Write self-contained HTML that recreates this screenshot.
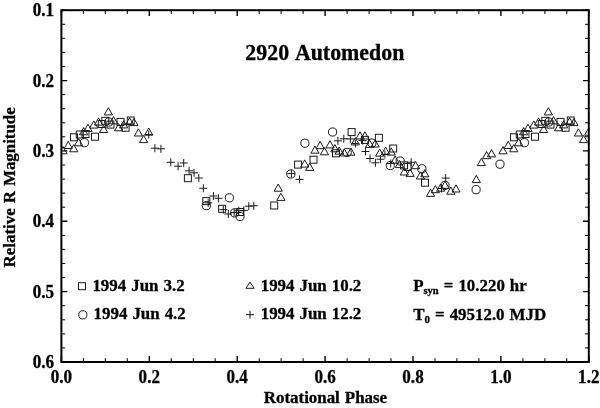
<!DOCTYPE html>
<html><head><meta charset="utf-8"><title>2920 Automedon</title>
<style>
html,body{margin:0;padding:0;background:#fff;}
svg{display:block;font-family:"Liberation Serif",serif;font-weight:bold;fill:#000;}
text{stroke:#000;stroke-width:0.3px;word-spacing:0.8px;}
.m *{fill:none;stroke:#1a1a1a;stroke-width:1;}
.t{font-size:17.5px;}
.l{font-size:17.1px;}
</style></head><body>
<svg width="600" height="408" viewBox="0 0 600 408">
<rect x="0" y="0" width="600" height="408" fill="#fff"/>
<clipPath id="c"><rect x="61.4" y="10.2" width="527.9" height="351.8"/></clipPath>
<g class="m" clip-path="url(#c)">
<rect x="184.4" y="174.7" width="7" height="7"/>
<rect x="202.8" y="197.6" width="7" height="7"/>
<rect x="218.6" y="205.3" width="7" height="7"/>
<rect x="236.6" y="208.5" width="7" height="7"/>
<rect x="270.7" y="202" width="7" height="7"/>
<rect x="294.6" y="161.1" width="7" height="7"/>
<rect x="310" y="156.2" width="7" height="7"/>
<rect x="332.5" y="149.8" width="7" height="7"/>
<rect x="348.1" y="128.6" width="7" height="7"/>
<rect x="361.4" y="136.4" width="7" height="7"/>
<rect x="375.4" y="134.3" width="7" height="7"/>
<rect x="389.7" y="145" width="7" height="7"/>
<rect x="400.5" y="161.9" width="7" height="7"/>
<rect x="404.1" y="163.4" width="7" height="7"/>
<rect x="421.5" y="179.2" width="7" height="7"/>
<rect x="70.5" y="133.8" width="7" height="7"/>
<rect x="76.3" y="131" width="7" height="7"/>
<rect x="82" y="130.5" width="7" height="7"/>
<rect x="91.5" y="133.2" width="7" height="7"/>
<rect x="98.3" y="120.5" width="7" height="7"/>
<rect x="101.8" y="117.3" width="7" height="7"/>
<rect x="106.9" y="121.1" width="7" height="7"/>
<rect x="117" y="118.4" width="7" height="7"/>
<rect x="122.1" y="124.2" width="7" height="7"/>
<rect x="127.3" y="117" width="7" height="7"/>
<rect x="510.5" y="133.8" width="7" height="7"/>
<rect x="516.3" y="131" width="7" height="7"/>
<rect x="522" y="130.5" width="7" height="7"/>
<rect x="531.5" y="133.2" width="7" height="7"/>
<rect x="538.3" y="120.5" width="7" height="7"/>
<rect x="541.8" y="117.3" width="7" height="7"/>
<rect x="546.9" y="121.1" width="7" height="7"/>
<rect x="557" y="118.4" width="7" height="7"/>
<rect x="562.1" y="124.2" width="7" height="7"/>
<rect x="567.3" y="117" width="7" height="7"/>
<circle cx="229.4" cy="197.8" r="4.1"/>
<circle cx="206.3" cy="205.6" r="4.1"/>
<circle cx="234.6" cy="212.9" r="4.1"/>
<circle cx="240" cy="216.5" r="4.1"/>
<circle cx="290.8" cy="174" r="4.1"/>
<circle cx="304.9" cy="143.2" r="4.1"/>
<circle cx="332.6" cy="132" r="4.1"/>
<circle cx="347.2" cy="152.4" r="4.1"/>
<circle cx="371.9" cy="143" r="4.1"/>
<circle cx="390.3" cy="165.5" r="4.1"/>
<circle cx="400.2" cy="161" r="4.1"/>
<circle cx="421.9" cy="168.8" r="4.1"/>
<circle cx="445" cy="185.4" r="4.1"/>
<circle cx="476.1" cy="189.6" r="4.1"/>
<circle cx="500" cy="164.2" r="4.1"/>
<circle cx="84.4" cy="142.7" r="4.1"/>
<circle cx="108.7" cy="122" r="4.1"/>
<circle cx="524.4" cy="142.7" r="4.1"/>
<circle cx="548.7" cy="122" r="4.1"/>
<path d="M274.1 191.2L278.2 184L282.3 191.2Z"/>
<path d="M276.8 200.4L280.9 193.2L285 200.4Z"/>
<path d="M300.6 167.1L304.7 159.9L308.8 167.1Z"/>
<path d="M305.6 170.4L309.7 163.2L313.8 170.4Z"/>
<path d="M310.9 153.2L315 146L319.1 153.2Z"/>
<path d="M316 148.7L320.1 141.5L324.2 148.7Z"/>
<path d="M320.4 154.8L324.5 147.6L328.6 154.8Z"/>
<path d="M325.9 147.9L330 140.7L334.1 147.9Z"/>
<path d="M330.8 151.8L334.9 144.6L339 151.8Z"/>
<path d="M335.1 154.2L339.2 147L343.3 154.2Z"/>
<path d="M340.2 156L344.3 148.8L348.4 156Z"/>
<path d="M346.8 155.2L350.9 148L355 155.2Z"/>
<path d="M351.2 144.9L355.3 137.7L359.4 144.9Z"/>
<path d="M355.9 139L360 131.8L364.1 139Z"/>
<path d="M360.8 139L364.9 131.8L369 139Z"/>
<path d="M365.6 147.4L369.7 140.2L373.8 147.4Z"/>
<path d="M371.1 147L375.2 139.8L379.3 147Z"/>
<path d="M375.6 156.2L379.7 149L383.8 156.2Z"/>
<path d="M381.5 154.3L385.6 147.1L389.7 154.3Z"/>
<path d="M387.1 155.1L391.2 147.9L395.3 155.1Z"/>
<path d="M391 163.2L395.1 156L399.2 163.2Z"/>
<path d="M395.4 167.6L399.5 160.4L403.6 167.6Z"/>
<path d="M400.2 175L404.3 167.8L408.4 175Z"/>
<path d="M406 176.4L410.1 169.2L414.2 176.4Z"/>
<path d="M411.5 168.7L415.6 161.5L419.7 168.7Z"/>
<path d="M416.3 179L420.4 171.8L424.5 179Z"/>
<path d="M420.7 176.8L424.8 169.6L428.9 176.8Z"/>
<path d="M426.5 196.4L430.6 189.2L434.7 196.4Z"/>
<path d="M431.3 192.7L435.4 185.5L439.5 192.7Z"/>
<path d="M436.5 191.2L440.6 184L444.7 191.2Z"/>
<path d="M440.9 188.3L445 181.1L449.1 188.3Z"/>
<path d="M446.8 194.2L450.9 187L455 194.2Z"/>
<path d="M451.9 192L456 184.8L460.1 192Z"/>
<path d="M472.2 182.6L476.3 175.4L480.4 182.6Z"/>
<path d="M477.3 165.6L481.4 158.4L485.5 165.6Z"/>
<path d="M482.5 158.7L486.6 151.5L490.7 158.7Z"/>
<path d="M487.4 156.8L491.5 149.6L495.6 156.8Z"/>
<path d="M64.1 148.5L68.2 141.3L72.3 148.5Z"/>
<path d="M69.6 151.8L73.7 144.6L77.8 151.8Z"/>
<path d="M58.9 153.8L63 146.6L67.1 153.8Z"/>
<path d="M74.5 145.8L78.6 138.6L82.7 145.8Z"/>
<path d="M79.5 134.8L83.6 127.6L87.7 134.8Z"/>
<path d="M83.9 131.4L88 124.2L92.1 131.4Z"/>
<path d="M89.7 128.1L93.8 120.9L97.9 128.1Z"/>
<path d="M94.5 125.1L98.6 117.9L102.7 125.1Z"/>
<path d="M99.5 132.5L103.6 125.3L107.7 132.5Z"/>
<path d="M104.3 114.9L108.4 107.7L112.5 114.9Z"/>
<path d="M109.4 123.8L113.5 116.6L117.6 123.8Z"/>
<path d="M114.5 130.8L118.6 123.6L122.7 130.8Z"/>
<path d="M119.6 127.9L123.7 120.7L127.8 127.9Z"/>
<path d="M125.5 124.9L129.6 117.7L133.7 124.9Z"/>
<path d="M129.9 125.6L134 118.4L138.1 125.6Z"/>
<path d="M134.3 136L138.4 128.8L142.5 136Z"/>
<path d="M139.5 142.6L143.6 135.4L147.7 142.6Z"/>
<path d="M144.6 135.2L148.7 128L152.8 135.2Z"/>
<path d="M504.1 148.5L508.2 141.3L512.3 148.5Z"/>
<path d="M509.6 151.8L513.7 144.6L517.8 151.8Z"/>
<path d="M498.9 153.8L503 146.6L507.1 153.8Z"/>
<path d="M514.5 145.8L518.6 138.6L522.7 145.8Z"/>
<path d="M519.5 134.8L523.6 127.6L527.7 134.8Z"/>
<path d="M523.9 131.4L528 124.2L532.1 131.4Z"/>
<path d="M529.7 128.1L533.8 120.9L537.9 128.1Z"/>
<path d="M534.5 125.1L538.6 117.9L542.7 125.1Z"/>
<path d="M539.5 132.5L543.6 125.3L547.7 132.5Z"/>
<path d="M544.3 114.9L548.4 107.7L552.5 114.9Z"/>
<path d="M549.4 123.8L553.5 116.6L557.6 123.8Z"/>
<path d="M554.5 130.8L558.6 123.6L562.7 130.8Z"/>
<path d="M559.6 127.9L563.7 120.7L567.8 127.9Z"/>
<path d="M565.5 124.9L569.6 117.7L573.7 124.9Z"/>
<path d="M569.9 125.6L574 118.4L578.1 125.6Z"/>
<path d="M574.3 136L578.4 128.8L582.5 136Z"/>
<path d="M579.5 142.6L583.6 135.4L587.7 142.6Z"/>
<path d="M584.6 135.2L588.7 128L592.8 135.2Z"/>
<path d="M144.7 134.5H152.7M148.7 130.5V138.5"/>
<path d="M150.9 148.2H158.9M154.9 144.2V152.2"/>
<path d="M156.9 148.8H164.9M160.9 144.8V152.8"/>
<path d="M166.8 162.3H174.8M170.8 158.3V166.3"/>
<path d="M174.1 166.2H182.1M178.1 162.2V170.2"/>
<path d="M179.7 163H187.7M183.7 159V167"/>
<path d="M185.1 170.8H193.1M189.1 166.8V174.8"/>
<path d="M190 172.8H198M194 168.8V176.8"/>
<path d="M194.8 178H202.8M198.8 174V182"/>
<path d="M199.3 188.3H207.3M203.3 184.3V192.3"/>
<path d="M209.4 196H217.4M213.4 192V200"/>
<path d="M214.4 198.3H222.4M218.4 194.3V202.3"/>
<path d="M204.2 202.8H212.2M208.2 198.8V206.8"/>
<path d="M219.3 209.6H227.3M223.3 205.6V213.6"/>
<path d="M224.3 214H232.3M228.3 210V218"/>
<path d="M230.2 212.5H238.2M234.2 208.5V216.5"/>
<path d="M234.8 210.8H242.8M238.8 206.8V214.8"/>
<path d="M239.8 210.4H247.8M243.8 206.4V214.4"/>
<path d="M244.8 206.2H252.8M248.8 202.2V210.2"/>
<path d="M249.8 205.8H257.8M253.8 201.8V209.8"/>
<path d="M287.4 173.6H295.4M291.4 169.6V177.6"/>
<path d="M295.6 179.4H303.6M299.6 175.4V183.4"/>
<path d="M333.9 140.8H341.9M337.9 136.8V144.8"/>
<path d="M339.8 138.8H347.8M343.8 134.8V142.8"/>
<path d="M346.4 138.9H354.4M350.4 134.9V142.9"/>
<path d="M351.3 143.5H359.3M355.3 139.5V147.5"/>
<path d="M358.6 140.6H366.6M362.6 136.6V144.6"/>
<path d="M361.5 151.5H369.5M365.5 147.5V155.5"/>
<path d="M366 158.5H374M370 154.5V162.5"/>
<path d="M371.4 162.8H379.4M375.4 158.8V166.8"/>
<path d="M376.5 159.2H384.5M380.5 155.2V163.2"/>
<path d="M380.9 154.4H388.9M384.9 150.4V158.4"/>
<path d="M386.7 163.5H394.7M390.7 159.5V167.5"/>
<path d="M407.1 162.2H415.1M411.1 158.2V166.2"/>
<path d="M441.7 178.1H449.7M445.7 174.1V182.1"/>
<path d="M437.5 188.5H445.5M441.5 184.5V192.5"/>
</g>
<rect x="61.4" y="10.2" width="527.4" height="351.8" fill="none" stroke="#000" stroke-width="2"/>
<path d="M61.4 362v-5.9M61.4 10.2v5.9M149.3 362v-5.9M149.3 10.2v5.9M237.2 362v-5.9M237.2 10.2v5.9M325.1 362v-5.9M325.1 10.2v5.9M413 362v-5.9M413 10.2v5.9M500.9 362v-5.9M500.9 10.2v5.9M588.8 362v-5.9M588.8 10.2v5.9M61.4 10.2h5.9M588.8 10.2h-5.9M61.4 80.6h5.9M588.8 80.6h-5.9M61.4 150.9h5.9M588.8 150.9h-5.9M61.4 221.3h5.9M588.8 221.3h-5.9M61.4 291.6h5.9M588.8 291.6h-5.9M61.4 362h5.9M588.8 362h-5.9" stroke="#000" stroke-width="1.4" fill="none"/>
<path d="M83.4 362v-3.8M83.4 10.2v3.8M105.3 362v-3.8M105.3 10.2v3.8M127.3 362v-3.8M127.3 10.2v3.8M171.3 362v-3.8M171.3 10.2v3.8M193.3 362v-3.8M193.3 10.2v3.8M215.2 362v-3.8M215.2 10.2v3.8M259.2 362v-3.8M259.2 10.2v3.8M281.1 362v-3.8M281.1 10.2v3.8M303.1 362v-3.8M303.1 10.2v3.8M347.1 362v-3.8M347.1 10.2v3.8M369.1 362v-3.8M369.1 10.2v3.8M391 362v-3.8M391 10.2v3.8M435 362v-3.8M435 10.2v3.8M456.9 362v-3.8M456.9 10.2v3.8M478.9 362v-3.8M478.9 10.2v3.8M522.9 362v-3.8M522.9 10.2v3.8M544.9 362v-3.8M544.9 10.2v3.8M566.8 362v-3.8M566.8 10.2v3.8M61.4 24.3h3.8M588.8 24.3h-3.8M61.4 38.3h3.8M588.8 38.3h-3.8M61.4 52.4h3.8M588.8 52.4h-3.8M61.4 66.5h3.8M588.8 66.5h-3.8M61.4 94.6h3.8M588.8 94.6h-3.8M61.4 108.7h3.8M588.8 108.7h-3.8M61.4 122.8h3.8M588.8 122.8h-3.8M61.4 136.8h3.8M588.8 136.8h-3.8M61.4 165h3.8M588.8 165h-3.8M61.4 179.1h3.8M588.8 179.1h-3.8M61.4 193.1h3.8M588.8 193.1h-3.8M61.4 207.2h3.8M588.8 207.2h-3.8M61.4 235.4h3.8M588.8 235.4h-3.8M61.4 249.4h3.8M588.8 249.4h-3.8M61.4 263.5h3.8M588.8 263.5h-3.8M61.4 277.6h3.8M588.8 277.6h-3.8M61.4 305.7h3.8M588.8 305.7h-3.8M61.4 319.8h3.8M588.8 319.8h-3.8M61.4 333.9h3.8M588.8 333.9h-3.8M61.4 347.9h3.8M588.8 347.9h-3.8" stroke="#000" stroke-width="1" fill="none"/>
<text transform="translate(61.4,383.4) scale(0.9569,1)" font-size="17.87" text-anchor="middle">0.0</text>
<text transform="translate(149.3,383.4) scale(0.9569,1)" font-size="17.87" text-anchor="middle">0.2</text>
<text transform="translate(237.2,383.4) scale(0.9569,1)" font-size="17.87" text-anchor="middle">0.4</text>
<text transform="translate(325.1,383.4) scale(0.9569,1)" font-size="17.87" text-anchor="middle">0.6</text>
<text transform="translate(413,383.4) scale(0.9569,1)" font-size="17.87" text-anchor="middle">0.8</text>
<text transform="translate(500.9,383.4) scale(0.9569,1)" font-size="17.87" text-anchor="middle">1.0</text>
<text transform="translate(588.8,383.4) scale(0.9569,1)" font-size="17.87" text-anchor="middle">1.2</text>
<text transform="translate(54,16.3) scale(0.9569,1)" font-size="17.87" text-anchor="end">0.1</text>
<text transform="translate(54,86.7) scale(0.9569,1)" font-size="17.87" text-anchor="end">0.2</text>
<text transform="translate(54,157) scale(0.9569,1)" font-size="17.87" text-anchor="end">0.3</text>
<text transform="translate(54,227.4) scale(0.9569,1)" font-size="17.87" text-anchor="end">0.4</text>
<text transform="translate(54,297.7) scale(0.9569,1)" font-size="17.87" text-anchor="end">0.5</text>
<text transform="translate(54,368.1) scale(0.9569,1)" font-size="17.87" text-anchor="end">0.6</text>
<text style="word-spacing:1.6px" transform="translate(245.3,59.6) scale(0.9709,1)" font-size="22.56">2920 Automedon</text>
<text transform="translate(263.8,403.2) scale(1.0000,1)" font-size="16.90">Rotational Phase</text>
<text transform="translate(15.2,267.4) rotate(-90) scale(1.0000,1)" font-size="16.90">Relative R Magnitude</text>
<text transform="translate(92.4,291.2) scale(1.0000,1)" font-size="16.90">1994 Jun 3.2</text>
<text transform="translate(93.6,319.4) scale(1.0000,1)" font-size="16.90">1994 Jun 4.2</text>
<text transform="translate(260.7,291.2) scale(1.0000,1)" font-size="16.90">1994 Jun 10.2</text>
<text transform="translate(260.7,319.4) scale(1.0000,1)" font-size="16.90">1994 Jun 12.2</text>
<text transform="translate(413.2,291.4) scale(1.0000,1)" font-size="16.90">P<tspan font-size="10.50" dy="3">syn</tspan><tspan dy="-3"> = 10.220 hr</tspan></text>
<text transform="translate(413.2,319.5) scale(1.0000,1)" font-size="16.90">T<tspan font-size="11.00" dy="3.1">0</tspan><tspan dy="-3.1"> = 49512.0 MJD</tspan></text>
<g class="m"><rect x="78.5" y="282.7" width="7" height="7"/><circle cx="82.8" cy="314.8" r="4.1"/><path d="M245.9 288.3L250 282.1L254.1 288.3Z"/><path d="M246 314.7H254M250 310.7V318.7"/></g>
</svg>
</body></html>
